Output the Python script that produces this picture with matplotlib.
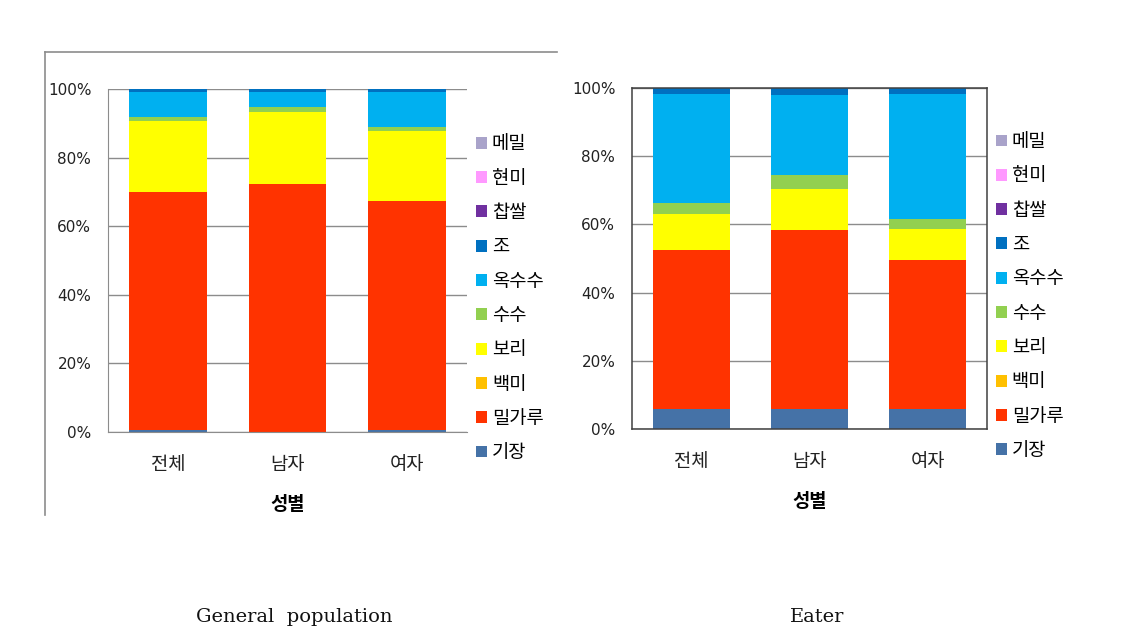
import matplotlib
matplotlib.use("Agg")
import matplotlib.pyplot as plt
from matplotlib.lines import Line2D
from matplotlib.patches import Patch
from matplotlib.ticker import PercentFormatter

plt.rcParams["font.family"] = ["Noto Sans CJK KR", "DejaVu Sans"]

groups = ["전체", "남자", "여자"]
grains = ["기장", "밀가루", "백미", "보리", "수수", "옥수수", "조", "찹쌀", "현미", "메밀"]
colors = ["#4572A7", "#FF3300", "#FFC000", "#FFFF00", "#92D050",
          "#00B0F0", "#0070C0", "#7030A0", "#FF99FF", "#A9A3CA"]

# share (%) of each grain, bottom to top, per group
general = {
    "기장": [0.5, 0.0, 0.7],
    "밀가루": [69.4, 72.4, 66.7],
    "백미": [0, 0, 0],
    "보리": [20.8, 20.8, 20.5],
    "수수": [1.0, 1.6, 1.0],
    "옥수수": [7.3, 4.2, 10.1],
    "조": [1.0, 1.0, 1.0],
    "찹쌀": [0, 0, 0],
    "현미": [0, 0, 0],
    "메밀": [0, 0, 0],
}
eater = {
    "기장": [5.9, 5.9, 5.9],
    "밀가루": [46.7, 52.5, 43.8],
    "백미": [0, 0, 0],
    "보리": [10.4, 12.0, 9.0],
    "수수": [3.2, 4.0, 3.0],
    "옥수수": [32.1, 23.6, 36.6],
    "조": [1.7, 2.0, 1.7],
    "찹쌀": [0, 0, 0],
    "현미": [0, 0, 0],
    "메밀": [0, 0, 0],
}
captions = ["General  population", "Eater"]


def draw(ax, data, boxed):
    x = range(len(groups))
    bottom = [0.0] * len(groups)
    for name, col in zip(grains, colors):
        vals = data[name]
        ax.bar(x, vals, 0.65, bottom=bottom, color=col, linewidth=0, zorder=2)
        bottom = [b + v for b, v in zip(bottom, vals)]

    ax.set_xlim(-0.5, 2.5)
    ax.set_ylim(0, 100)
    ax.set_yticks(range(0, 101, 20))
    ax.yaxis.set_major_formatter(PercentFormatter(decimals=0))
    ax.set_xticks(list(x))
    ax.set_xticklabels(groups, fontsize=13.5, color="#222222")
    ax.tick_params(axis="x", length=0, pad=16)
    ax.tick_params(axis="y", length=0, pad=12, labelsize=11, labelcolor="#222222")
    for lab in ax.get_yticklabels():
        lab.set_family(["DejaVu Sans"])
    ax.grid(axis="y", color="#8c8c8c", linewidth=1, zorder=1)
    ax.set_axisbelow(True)
    ax.set_xlabel("성별", fontsize=13.5, fontweight="bold", labelpad=14)

    if boxed:
        for s in ax.spines.values():
            s.set_color("#404040")
            s.set_linewidth(1.1)
    else:
        ax.spines["top"].set_visible(False)
        ax.spines["right"].set_visible(False)
        ax.spines["left"].set_color("#8c8c8c")
        ax.spines["bottom"].set_color("#8c8c8c")

    handles = [Patch(facecolor=c, edgecolor="none") for c in colors][::-1]
    ax.legend(handles, grains[::-1], loc="center left", bbox_to_anchor=(1.025, 0.39),
              frameon=False, fontsize=13.5, handlelength=0.6, handleheight=0.6,
              handletextpad=0.25, labelspacing=0.71, borderpad=0, borderaxespad=0)


fig = plt.figure(figsize=(11.36, 6.44), dpi=100)
ax1 = fig.add_axes([108 / 1136, 212 / 644, 359 / 1136, 343 / 644])
ax2 = fig.add_axes([632 / 1136, 215 / 644, 355 / 1136, 341 / 644])
draw(ax1, general, boxed=False)
draw(ax2, eater, boxed=True)

# outer frame left over around the first chart
fig.add_artist(Line2D([45 / 1136, 45 / 1136], [1 - 52 / 644, 1 - 515 / 644],
                      color="#8c8c8c", linewidth=1.2))
fig.add_artist(Line2D([45 / 1136, 557 / 1136], [1 - 52 / 644, 1 - 52 / 644],
                      color="#8c8c8c", linewidth=1.2))

for xc, txt in zip([294, 817], captions):
    fig.text(xc / 1136, 1 - 617 / 644, txt, ha="center", va="center",
             family="DejaVu Serif", fontsize=14, color="#111111")

fig.savefig("out.png", dpi=100)
